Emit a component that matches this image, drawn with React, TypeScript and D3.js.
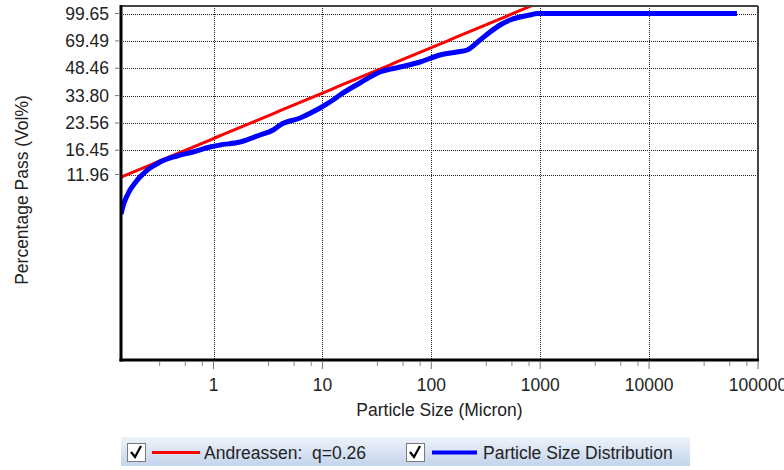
import React from "react";
import * as d3 from "d3";

// Measured cumulative size distribution (micron, % passing)
const sizes = [
  0.1414, 0.1507, 0.1605, 0.171, 0.19, 0.211, 0.235, 0.261, 0.29, 0.323,
  0.462, 0.648, 0.929, 1.15, 1.75, 2.67, 3.52, 4.08, 6.23, 9.51, 12.5, 14.5,
  22.1, 33.8, 51.6, 78.8, 120, 172, 213, 280, 346, 428, 528, 652, 806, 935,
  64100,
];
const passing = [
  7.1, 8.22, 9.01, 9.75, 10.69, 11.57, 12.36, 13.03, 13.56, 14.1, 15.26,
  16.09, 17.18, 17.64, 18.35, 20.12, 21.49, 22.95, 25.17, 28.71, 31.9, 34.07,
  39.91, 46.12, 49.25, 52.61, 57.7, 60.02, 61.62, 70.29, 78.1, 85.64, 91.5,
  95.2, 97.7, 99.65, 99.65,
];

// Andreassen model parameters
const modelQ = 0.26;
const modelMaxSize = 570;

const yTickValues = [99.65, 69.49, 48.46, 33.8, 23.56, 16.45, 11.96];
const xTickValues = [1, 10, 100, 1000, 10000, 100000];
const xMinorFactors = [3.2, 5.5, 7.9];
const xMinorDecades = [0.1, 1, 10, 100, 1000, 10000];

const legendModelLabel = "Andreassen:  q=0.26";
const legendDataLabel = "Particle Size Distribution";
const xTitle = "Particle Size (Micron)";
const yTitle = "Percentage Pass (Vol%)";

const W = 784;
const H = 470;
const plot = { left: 121, right: 758, top: 6, bottom: 360 };
const FONT = "'Liberation Sans', Arial, sans-serif";
const FS = 17.5;

export default function App() {
  const x = d3.scaleLog().domain([0.1414, 100000]).range([plot.left, plot.right]);
  const y = d3.scaleLog().domain([1.04, 110]).range([plot.bottom, plot.top]);

  const dataPts: [number, number][] = sizes.map((s, i) => [s, passing[i]]);
  const dataLine = d3
    .line<[number, number]>()
    .x((d) => x(d[0]))
    .y((d) => y(d[1]))
    .curve(d3.curveMonotoneX);
  const modelLine = d3
    .line<[number, number]>()
    .x((d) => x(d[0]))
    .y((d) => y(d[1]));

  const modelSizes = d3.range(0, 61).map((i) => 0.1414 * Math.pow(10, (i * 4) / 60));
  const modelPts: [number, number][] = modelSizes.map((s) => [
    s,
    100 * Math.pow(s / modelMaxSize, modelQ),
  ]);

  const minorTicks = xMinorDecades
    .flatMap((dec) => xMinorFactors.map((f) => dec * f))
    .filter((v) => v >= 0.1414 && v <= 100000);

  const legendItems = [
    { bx: 127, color: "#ff0000", width: 3, lx1: 152, lx2: 200, tx: 204, label: legendModelLabel },
    { bx: 406, color: "#0000ff", width: 4, lx1: 432, lx2: 477, tx: 483, label: legendDataLabel },
  ];

  return (
    <svg
      width={W}
      height={H}
      style={{ position: "absolute", left: 0, top: 0, background: "#fff" }}
      fontFamily={FONT}
    >
      <defs>
        <clipPath id="plotClip">
          <rect
            x={plot.left}
            y={plot.top}
            width={plot.right - plot.left}
            height={plot.bottom - plot.top}
          />
        </clipPath>
        <linearGradient id="legendBg" x1="0" y1="0" x2="0" y2="1">
          <stop offset="0" stopColor="#eef3fa" />
          <stop offset="1" stopColor="#c3d4ec" />
        </linearGradient>
      </defs>

      {/* grid */}
      <g stroke="#222" strokeWidth={1} strokeDasharray="1 1">
        {yTickValues.map((v) => (
          <line
            key={"gy" + v}
            x1={plot.left}
            x2={plot.right}
            y1={Math.round(y(v)) + 0.5}
            y2={Math.round(y(v)) + 0.5}
          />
        ))}
        {xTickValues.slice(0, -1).map((v) => (
          <line
            key={"gx" + v}
            x1={Math.round(x(v)) + 0.5}
            x2={Math.round(x(v)) + 0.5}
            y1={plot.top}
            y2={plot.bottom}
          />
        ))}
      </g>

      {/* series */}
      <g clipPath="url(#plotClip)" fill="none" strokeLinejoin="round">
        <path d={modelLine(modelPts) || ""} stroke="#ff0000" strokeWidth={3} />
        <path d={dataLine(dataPts) || ""} stroke="#0000ff" strokeWidth={5} />
      </g>

      {/* frame */}
      <line x1={plot.left} x2={plot.right} y1={plot.top} y2={plot.top} stroke="#444" strokeWidth={2} />
      <line x1={plot.right} x2={plot.right} y1={plot.top} y2={plot.bottom} stroke="#444" strokeWidth={2} />
      <line x1={plot.left} x2={plot.left} y1={plot.top - 1} y2={plot.bottom + 1.5} stroke="#000" strokeWidth={3} />
      <line x1={plot.left - 1.5} x2={plot.right + 1} y1={plot.bottom} y2={plot.bottom} stroke="#000" strokeWidth={3} />

      {/* y axis ticks and labels */}
      {yTickValues.map((v) => (
        <g key={"ty" + v}>
          <line x1={plot.left - 6} x2={plot.left - 2} y1={y(v)} y2={y(v)} stroke="#777" />
          <text
            x={109}
            y={y(v)}
            textAnchor="end"
            dominantBaseline="central"
            fontSize={FS}
            fill="#222"
          >
            {v.toFixed(2)}
          </text>
        </g>
      ))}

      {/* x axis ticks and labels */}
      {xTickValues.map((v) => (
        <g key={"tx" + v}>
          <line x1={x(v)} x2={x(v)} y1={plot.bottom + 2} y2={plot.bottom + 9} stroke="#777" />
          <text x={x(v)} y={391} textAnchor="middle" fontSize={FS} fill="#222">
            {String(v)}
          </text>
        </g>
      ))}
      {minorTicks.map((v) => (
        <line
          key={"mx" + v}
          x1={x(v)}
          x2={x(v)}
          y1={plot.bottom + 2}
          y2={plot.bottom + 6}
          stroke="#888"
        />
      ))}

      {/* axis titles */}
      <text x={(plot.left + plot.right) / 2} y={416} textAnchor="middle" fontSize={FS} fill="#222">
        {xTitle}
      </text>
      <text
        transform={`translate(28,190) rotate(-90)`}
        textAnchor="middle"
        fontSize={FS}
        fill="#222"
      >
        {yTitle}
      </text>

      {/* legend */}
      <g>
        <rect x={121} y={437} width={569} height={29} fill="url(#legendBg)" />
        {legendItems.map((item) => (
          <g key={item.label}>
            <rect x={item.bx + 0.5} y={443.5} width={18} height={18} fill="#fff" stroke="#7a7a7a" />
            <path
              d={`M${item.bx + 4},${452} L${item.bx + 8},${457} L${item.bx + 14},${446}`}
              fill="none"
              stroke="#000"
              strokeWidth={2.2}
            />
            <line
              x1={item.lx1}
              x2={item.lx2}
              y1={452.5}
              y2={452.5}
              stroke={item.color}
              strokeWidth={item.width}
            />
            <text
              x={item.tx}
              y={458.5}
              fontSize={FS}
              fill="#222"
              style={{ whiteSpace: "pre" }}
            >
              {item.label}
            </text>
          </g>
        ))}
      </g>
    </svg>
  );
}
